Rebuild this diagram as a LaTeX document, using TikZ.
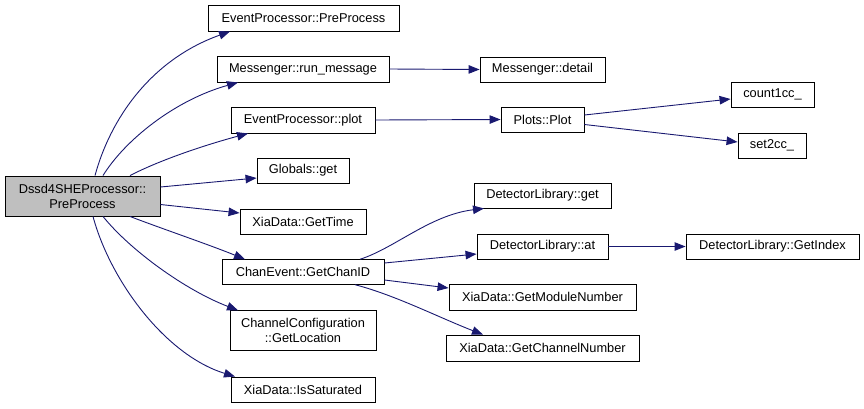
\documentclass[tikz,border=0pt]{standalone}
\usepackage{fontspec}
\setmainfont{Liberation Sans}
\usetikzlibrary{arrows.meta}
\definecolor{edgeblue}{HTML}{191970}
\definecolor{boxgray}{HTML}{BFBFBF}
\begin{document}
\begin{tikzpicture}[x=1pt,y=-1pt,
  fn/.style={draw=black,line width=0.9pt,fill=white,inner sep=0pt,
    font=\fontsize{12.8}{15}\selectfont,align=center},
  call/.style={draw=edgeblue,line width=0.9pt,
    -{Triangle[length=11pt,width=8.5pt]},edgeblue},
]
\useasboundingbox (0,0) rectangle (864,408);
% nodes
\node[fn,fill=boxgray,minimum width=155pt,minimum height=40pt] (dssd) at (82.5,196) {Dssd4SHEProcessor::\\PreProcess};
\node[fn,minimum width=191pt,minimum height=26pt] (epPre) at (303.5,18) {EventProcessor::PreProcess};
\node[fn,minimum width=172pt,minimum height=26pt] (runmsg) at (303,69) {Messenger::run\_message};
\node[fn,minimum width=144pt,minimum height=26pt] (plot) at (303,120) {EventProcessor::plot};
\node[fn,minimum width=92pt,minimum height=25pt] (gget) at (303,170.5) {Globals::get};
\node[fn,minimum width=126pt,minimum height=25pt] (gettime) at (303,221.5) {XiaData::GetTime};
\node[fn,minimum width=162pt,minimum height=24.5pt] (chanid) at (303,272) {ChanEvent::GetChanID};
\node[fn,minimum width=146pt,minimum height=39.5pt] (getloc) at (303,330.5) {ChannelConfiguration\\::GetLocation};
\node[fn,minimum width=144pt,minimum height=25pt] (issat) at (303,389.5) {XiaData::IsSaturated};
\node[fn,minimum width=125pt,minimum height=25pt] (detail) at (542.5,69.5) {Messenger::detail};
\node[fn,minimum width=83pt,minimum height=25pt] (pplot) at (542.5,119.5) {Plots::Plot};
\node[fn,minimum width=83pt,minimum height=25pt] (count) at (772.5,94.5) {count1cc\_};
\node[fn,minimum width=68pt,minimum height=25pt] (set2) at (772,145.5) {set2cc\_};
\node[fn,minimum width=137pt,minimum height=25pt] (dlget) at (542.5,195.5) {DetectorLibrary::get};
\node[fn,minimum width=131pt,minimum height=25pt] (dlat) at (542.5,246.5) {DetectorLibrary::at};
\node[fn,minimum width=173pt,minimum height=25pt] (getidx) at (772.5,246.5) {DetectorLibrary::GetIndex};
\node[fn,minimum width=187pt,minimum height=26pt] (modnum) at (542.5,297) {XiaData::GetModuleNumber};
\node[fn,minimum width=193pt,minimum height=26pt] (chnum) at (542.5,348) {XiaData::GetChannelNumber};
% edges from Dssd4SHEProcessor::PreProcess
\draw[call] ([xshift=12.5pt]dssd.north) .. controls (110,120) and (150,60) .. ([xshift=-73.5pt]epPre.south);
\draw[call] ([xshift=20.5pt]dssd.north) .. controls (125,140) and (175,100) .. ([xshift=-65pt]runmsg.south);
\draw[call] ([xshift=47.5pt]dssd.north) .. controls (160,160) and (205,145) .. ([xshift=-55pt]plot.south);
\draw[call] ([yshift=9pt]dssd.east) -- ([yshift=-7.5pt]gget.west);
\draw[call] ([yshift=-8.5pt]dssd.east) -- ([yshift=8.5pt]gettime.west);
\draw[call] ([xshift=47.5pt]dssd.south) .. controls (160,228) and (210,245) .. ([xshift=-58pt]chanid.north);
\draw[call] ([xshift=20.5pt]dssd.south) .. controls (130,250) and (185,290) .. ([xshift=-65pt]getloc.north);
\draw[call] ([xshift=10.5pt]dssd.south) .. controls (110,280) and (165,355) .. ([xshift=-68pt]issat.north);
% second level
\draw[call] (runmsg.east) -- (detail.west);
\draw[call] (plot.east) -- (pplot.west);
\draw[call] ([yshift=4.5pt]pplot.east) -- ([yshift=-4.5pt]count.west);
\draw[call] ([yshift=-5pt]pplot.east) -- ([yshift=3.5pt]set2.west);
\draw[call] ([xshift=57pt]chanid.north) .. controls (395,248) and (430,215) .. ([xshift=-58.5pt]dlget.south);
\draw[call] ([yshift=9pt]chanid.east) -- ([yshift=-7.5pt]dlat.west);
\draw[call] ([yshift=-8pt]chanid.east) -- ([yshift=9pt]modnum.west);
\draw[call] ([xshift=52pt]chanid.south) .. controls (395,295) and (440,318) .. ([xshift=-59.5pt]chnum.north);
\draw[call] (dlat.east) -- (getidx.west);
\end{tikzpicture}
\end{document}
